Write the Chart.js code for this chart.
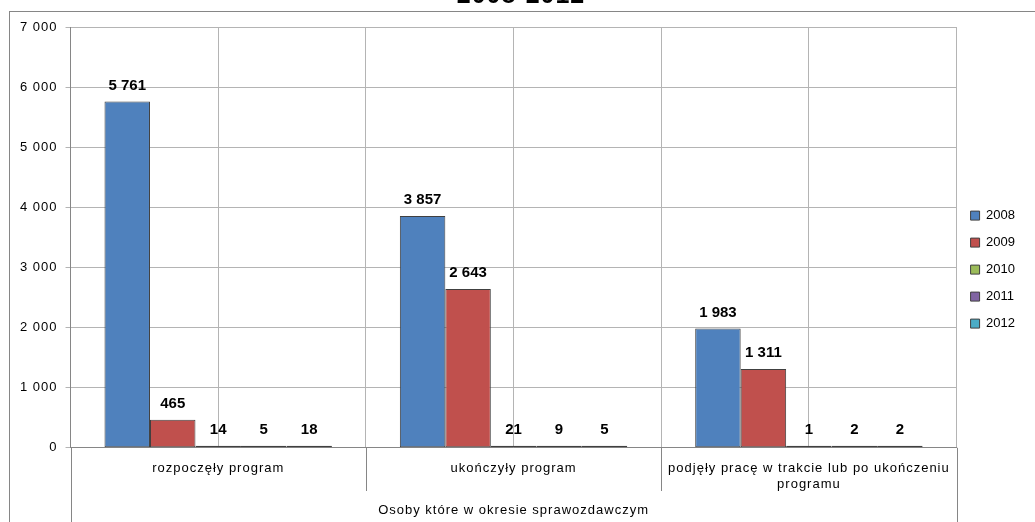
<!DOCTYPE html>
<html>
<head>
<meta charset="utf-8">
<script src="https://cdn.jsdelivr.net/npm/chart.js@4"></script>
<style>
html, body { margin: 0; padding: 0; background: #fff; overflow: hidden; }
#wrap { position: absolute; left: 0; top: -20px; width: 1035px; height: 542px; }
#frame { position: absolute; left: 9px; top: 11px; width: 1100px; height: 600px; border: 1px solid #868686; pointer-events: none; }
</style>
</head>
<body>
<div id="wrap"><canvas id="chart"></canvas></div>
<div id="frame"></div>
<script>
const categories = ['rozpoczęły program', 'ukończyły program', ['podjęły pracę w trakcie lub po ukończeniu', 'programu']];
const groupLabel = ['Osoby które w okresie sprawozdawczym'];
const years = ['2008', '2009', '2010', '2011', '2012'];
const values2008 = [5761, 3857, 1983];
const values2009 = [465, 2643, 1311];
const values2010 = [14, 21, 1];
const values2011 = [5, 9, 2];
const values2012 = [18, 5, 2];
const yTicks = [0, 1000, 2000, 3000, 4000, 5000, 6000, 7000];

const series = [values2008, values2009, values2010, values2011, values2012];
const colors = ['#4F81BD', '#C0504D', '#9BBB59', '#8064A2', '#4BACC6'];
const font = '"Liberation Sans", Arial, sans-serif';
const lineGray = '#868686';

function fmt(v) {
    return String(v).replace(/\B(?=(\d{3})+(?!\d))/g, ' ');
}

// Excel-like loose text on axes and title; legend keeps normal spacing
const looseText = {
    id: 'looseText',
    afterInit(chart) {
        const lg = chart.legend;
        if (!lg) return;
        const orig = lg.draw;
        lg.draw = function () {
            const ctx = chart.ctx;
            const s = ctx.letterSpacing;
            ctx.letterSpacing = '0px';
            orig.apply(this, arguments);
            ctx.letterSpacing = s;
        };
    },
    beforeDraw(chart) {
        chart.ctx.letterSpacing = '1px';
    },
    afterDraw(chart) {
        chart.ctx.letterSpacing = '0px';
    }
};

// value labels above bars
const valueLabels = {
    id: 'valueLabels',
    afterDatasetsDraw(chart) {
        const ctx = chart.ctx;
        ctx.save();
        ctx.letterSpacing = '0px';
        ctx.font = 'bold 15px ' + font;
        ctx.fillStyle = '#000';
        ctx.textAlign = 'center';
        ctx.textBaseline = 'middle';
        chart.data.datasets.forEach((ds, i) => {
            chart.getDatasetMeta(i).data.forEach((bar, j) => {
                ctx.fillText(fmt(ds.data[j]), bar.x, bar.y - 16);
            });
        });
        ctx.restore();
    }
};

// separator lines of the two-level category axis
const categorySeparators = {
    id: 'categorySeparators',
    afterDraw(chart) {
        const x = chart.scales.x;
        const ctx = chart.ctx;
        const top = chart.chartArea.bottom;
        ctx.save();
        ctx.strokeStyle = lineGray;
        ctx.lineWidth = 1;
        ctx.beginPath();
        for (let i = 1; i < categories.length; i++) {
            const px = Math.round((x.getPixelForValue(i - 1) + x.getPixelForValue(i)) / 2) + 0.5;
            ctx.moveTo(px, top);
            ctx.lineTo(px, x.bottom);
        }
        [x.left, x.right].forEach(e => {
            const px = Math.round(e) + 0.5;
            ctx.moveTo(px, top);
            ctx.lineTo(px, chart.height);
        });
        ctx.stroke();
        ctx.restore();
    }
};

Chart.defaults.font.family = font;
Chart.defaults.color = '#000';

const datasets = years.map((y, i) => ({
    label: y,
    data: series[i],
    backgroundColor: colors[i],
    borderColor: '#404040',
    borderWidth: 1,
    borderSkipped: false,
    minBarLength: 2,
    categoryPercentage: 0.77,
    barPercentage: 1.0
}));

new Chart(document.getElementById('chart').getContext('2d'), {
    type: 'bar',
    data: { labels: categories, datasets: datasets },
    options: {
        responsive: true,
        maintainAspectRatio: false,
        animation: false,
        layout: { padding: { left: 17, right: 10, bottom: 3 } },
        plugins: {
            title: {
                display: true,
                text: '2008-2012',
                font: { size: 25, weight: 'bold' },
                color: '#000',
                padding: { top: 1, bottom: 16 }
            },
            legend: {
                position: 'right',
                title: { display: true, text: ' ', font: { size: 1 }, padding: { top: 39, bottom: 0 } },
                labels: { boxWidth: 9, boxHeight: 9, padding: 14, font: { size: 13 }, color: '#000' }
            },
            tooltip: { enabled: false }
        },
        scales: {
            x: {
                offset: true,
                grid: { offset: true, drawOnChartArea: false, tickColor: 'rgba(0,0,0,0)', tickLength: 14 },
                border: { color: lineGray },
                ticks: { padding: -1, font: { size: 13 }, maxRotation: 0, autoSkip: false }
            },
            x2: {
                type: 'category',
                labels: groupLabel,
                position: 'bottom',
                offset: true,
                grid: { offset: true, drawOnChartArea: false, tickColor: 'rgba(0,0,0,0)', tickLength: 11.6 },
                border: { display: false },
                ticks: { padding: 0.4, font: { size: 13 }, maxRotation: 0 }
            },
            x3: {
                type: 'category',
                labels: ['', '', '', '', '', ''],
                position: 'top',
                offset: true,
                grid: { offset: true, color: '#b4b4b4', drawTicks: false },
                border: { display: false },
                ticks: { display: false }
            },
            y: {
                min: 0,
                max: 7000,
                afterBuildTicks: (axis) => { axis.ticks = yTicks.map(v => ({ value: v })); },
                ticks: { callback: (v) => fmt(v), padding: 8, font: { size: 13 } },
                grid: { color: '#b4b4b4', tickLength: 5 },
                border: { color: lineGray }
            }
        }
    },
    plugins: [looseText, valueLabels, categorySeparators]
});
</script>
</body>
</html>
